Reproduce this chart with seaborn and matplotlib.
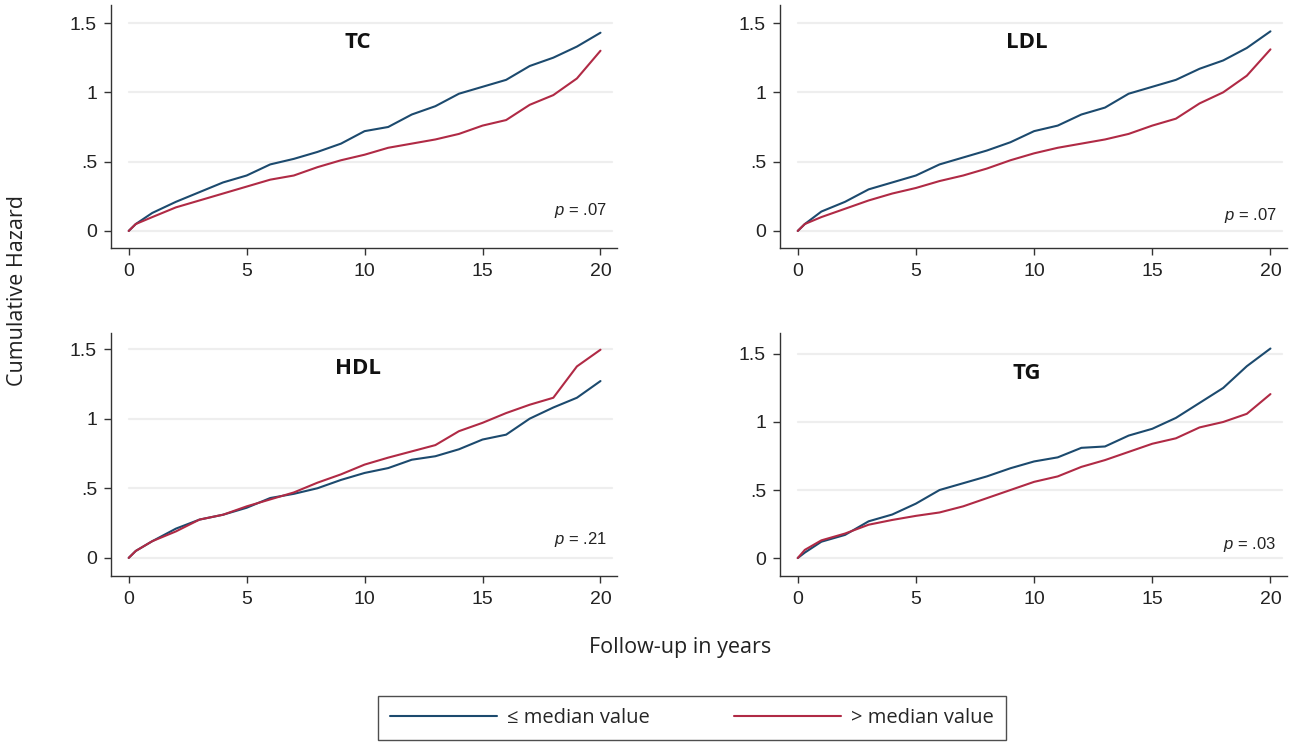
import numpy as np
import pandas as pd
import matplotlib
matplotlib.use("Agg")
import matplotlib.pyplot as plt
import seaborn as sns
from matplotlib.lines import Line2D

# ---------------- data ----------------
years = [0, 0.3, 1, 2, 3, 4, 5, 6, 7, 8, 9, 10, 11, 12, 13, 14, 15, 16, 17, 18, 19, 20]

tc_low = [0, 0.05, 0.13, 0.21, 0.28, 0.35, 0.40, 0.48, 0.52, 0.57, 0.63, 0.72, 0.75, 0.84, 0.90,
          0.99, 1.04, 1.09, 1.19, 1.25, 1.33, 1.43]
tc_high = [0, 0.05, 0.10, 0.17, 0.22, 0.27, 0.32, 0.37, 0.40, 0.46, 0.51, 0.55, 0.60, 0.63, 0.66,
           0.70, 0.76, 0.80, 0.91, 0.98, 1.10, 1.30]

ldl_low = [0, 0.05, 0.14, 0.21, 0.30, 0.35, 0.40, 0.48, 0.53, 0.58, 0.64, 0.72, 0.76, 0.84, 0.89,
           0.99, 1.04, 1.09, 1.17, 1.23, 1.32, 1.44]
ldl_high = [0, 0.05, 0.10, 0.16, 0.22, 0.27, 0.31, 0.36, 0.40, 0.45, 0.51, 0.56, 0.60, 0.63, 0.66,
            0.70, 0.76, 0.81, 0.92, 1.00, 1.12, 1.31]

hdl_low = [0, 0.05, 0.12, 0.21, 0.275, 0.31, 0.36, 0.43, 0.46, 0.50, 0.56, 0.61, 0.645, 0.705, 0.73,
           0.78, 0.85, 0.885, 1.00, 1.08, 1.15, 1.27]
hdl_high = [0, 0.05, 0.12, 0.19, 0.275, 0.31, 0.37, 0.42, 0.47, 0.54, 0.60, 0.67, 0.72, 0.765, 0.81,
            0.91, 0.97, 1.04, 1.10, 1.15, 1.375, 1.495]

tg_low = [0, 0.04, 0.12, 0.17, 0.27, 0.32, 0.40, 0.50, 0.55, 0.60, 0.66, 0.71, 0.74, 0.81, 0.82,
          0.90, 0.95, 1.03, 1.14, 1.25, 1.41, 1.54]
tg_high = [0, 0.06, 0.13, 0.18, 0.245, 0.28, 0.31, 0.335, 0.38, 0.44, 0.50, 0.56, 0.60, 0.67, 0.72,
           0.78, 0.84, 0.88, 0.96, 1.00, 1.06, 1.205]

panels = ["TC", "LDL", "HDL", "TG"]
p_labels = [".07", ".07", ".21", ".03"]
group_labels = ["\u2264 median value", "> median value"]
x_ticks = [0, 5, 10, 15, 20]
y_ticks = [0, 0.5, 1, 1.5]
y_tick_labels = ["0", ".5", "1", "1.5"]

series = {
    "TC": (tc_low, tc_high),
    "LDL": (ldl_low, ldl_high),
    "HDL": (hdl_low, hdl_high),
    "TG": (tg_low, tg_high),
}

# ---------------- styling / layout ----------------
sns.set_style("white")
plt.rcParams["font.family"] = ["Liberation Sans", "DejaVu Sans"]
plt.rcParams["mathtext.fontset"] = "custom"
plt.rcParams["mathtext.it"] = "Liberation Sans:italic"
plt.rcParams["mathtext.rm"] = "Liberation Sans"

label_family = ["Open Sans", "DejaVu Sans"]

BLUE = "#1c4a6e"
RED = "#b02a45"
W, H = 1298, 746

fig = plt.figure(figsize=(W / 100, H / 100), dpi=100)
fig.patch.set_facecolor("white")

# pixel boxes: (left, top, right, bottom)
boxes = {
    "TC": (111, 5, 617, 248),
    "LDL": (780, 5, 1287, 248),
    "HDL": (111, 333, 617, 576),
    "TG": (780, 333, 1287, 576),
}
ylims = {"TC": (-0.123, 1.63), "LDL": (-0.123, 1.63), "HDL": (-0.13, 1.615), "TG": (-0.132, 1.654)}
p_y = {"TC": 0.15, "LDL": 0.115, "HDL": 0.13, "TG": 0.10}

for i, name in enumerate(panels):
    l, t, r, b = boxes[name]
    ax = fig.add_axes([l / W, 1 - b / H, (r - l) / W, (b - t) / H])
    low, high = series[name]
    df = pd.DataFrame({
        "years": years * 2,
        "hazard": low + high,
        "group": [group_labels[0]] * len(years) + [group_labels[1]] * len(years),
    })
    sns.lineplot(data=df, x="years", y="hazard", hue="group",
                 palette=[BLUE, RED], ax=ax, legend=False, linewidth=1.5, sort=False)
    ax.set_xlim(-0.75, 20.7)
    ax.set_ylim(*ylims[name])
    ax.set_xticks(x_ticks)
    ax.set_yticks(y_ticks)
    ax.set_yticklabels(y_tick_labels)
    ax.set_xlabel("")
    ax.set_ylabel("")
    for yv in y_ticks:
        ax.axhline(yv, xmin=0.035, xmax=0.99, color="#eeeeee", lw=1.6, zorder=0)
    for s in ["top", "right"]:
        ax.spines[s].set_visible(False)
    for s in ["left", "bottom"]:
        ax.spines[s].set_color("#333333")
        ax.spines[s].set_linewidth(1.0)
    ax.tick_params(axis="y", direction="out", length=5, width=1.0, color="#333333",
                   labelsize=14, labelcolor="#222222", pad=5, left=True)
    ax.tick_params(axis="x", direction="out", length=5, width=1.0, color="#333333",
                   labelsize=14, labelcolor="#222222", pad=6, bottom=True)
    ax.text(9.7, 1.36, name, ha="center", va="center", fontsize=16, fontweight="bold",
            family=label_family, color="#111111")
    ax.text(20.25, p_y[name], "$p$ = " + p_labels[i],
            ha="right", va="center", fontsize=12, color="#222222")

fig.text(18 / W, 1 - 290 / H, "Cumulative Hazard", rotation=90, ha="center", va="center",
         fontsize=15.5, family=label_family, color="#222222")
fig.text(680 / W, 1 - 648 / H, "Follow-up in years", ha="center", va="center",
         fontsize=15.5, family=label_family, color="#222222")

handles = [Line2D([0], [0], color=BLUE, lw=1.5), Line2D([0], [0], color=RED, lw=1.5)]
leg = fig.legend(handles, group_labels, loc="center", bbox_to_anchor=(692 / W, 1 - 718 / H),
                 ncol=2, frameon=True, fancybox=False, handlelength=5.3, columnspacing=4.2,
                 borderpad=0.62, handletextpad=0.5, borderaxespad=0,
                 prop={"family": label_family, "size": 14.5})
leg.get_frame().set_edgecolor("#222222")
leg.get_frame().set_linewidth(1.0)

fig.savefig("out.png", dpi=100, facecolor="white")
